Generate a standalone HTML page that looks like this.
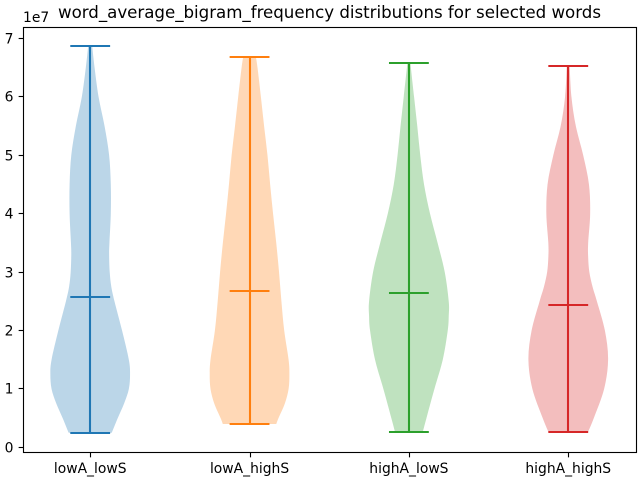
<!DOCTYPE html>
<html>
<head>
<meta charset="utf-8">
<title>word_average_bigram_frequency distributions</title>
<style>
html,body{margin:0;padding:0;background:#fff;width:640px;height:480px;overflow:hidden}
svg{display:block}
text{font-family:"DejaVu Sans","Liberation Sans",sans-serif;fill:#000}
</style>
</head>
<body>
<svg id="chart" width="640" height="480" viewBox="0 0 640 480" xmlns="http://www.w3.org/2000/svg">
<rect x="0" y="0" width="640" height="480" fill="#fff"/>
<text x="329.5" y="18" font-size="16.67" text-anchor="middle" textLength="543" lengthAdjust="spacing">word_average_bigram_frequency distributions for selected words</text>
<text x="23" y="22" font-size="13.89">1e7</text>
<g id="violins"></g>
<g id="axes"></g>
</svg>
<script>
const categories = ['lowA_lowS', 'lowA_highS', 'highA_lowS', 'highA_highS'];
const colors = ['#1f77b4', '#ff7f0e', '#2ca02c', '#d62728'];
const yTicks = [0, 1, 2, 3, 4, 5, 6, 7];
const means = [2.57, 2.68, 2.64, 2.43];
const minimums = [0.25, 0.40, 0.27, 0.27];
const maximums = [6.87, 6.68, 6.58, 6.53];
const levelsLowALowS = [0.25, 0.5, 0.75, 1, 1.25, 1.5, 2, 2.5, 2.75, 3, 3.3, 3.5, 4, 4.5, 5, 5.5, 6, 6.5, 6.87];
const densityLowALowS = [0.54, 0.69, 0.85, 0.97, 1.00, 0.97, 0.80, 0.61, 0.53, 0.49, 0.475, 0.483, 0.517, 0.517, 0.475, 0.36, 0.21, 0.11, 0.05];
const levelsLowAHighS = [0.40, 0.5, 0.75, 1, 1.25, 1.5, 2, 2.5, 3, 3.5, 4, 4.5, 5, 5.5, 6, 6.5, 6.68];
const densityLowAHighS = [0.67, 0.725, 0.885, 0.98, 1.00, 0.98, 0.87, 0.80, 0.74, 0.67, 0.59, 0.517, 0.45, 0.365, 0.285, 0.20, 0.16];
const levelsHighALowS = [0.27, 0.5, 1, 1.5, 2, 2.25, 2.5, 3, 3.5, 4, 4.5, 5, 5.5, 6, 6.5, 6.58];
const densityHighALowS = [0.35, 0.44, 0.64, 0.85, 0.975, 1.00, 1.00, 0.90, 0.72, 0.53, 0.38, 0.285, 0.21, 0.13, 0.05, 0.04];
const levelsHighAHighS = [0.27, 0.5, 1, 1.5, 2, 2.5, 2.75, 3, 3.25, 3.5, 4, 4.5, 5, 5.5, 6, 6.53];
const densityHighAHighS = [0.50, 0.64, 0.90, 1.00, 0.92, 0.72, 0.61, 0.53, 0.50, 0.50, 0.55, 0.52, 0.375, 0.19, 0.08, 0.035];
const levels = [levelsLowALowS, levelsLowAHighS, levelsHighALowS, levelsHighAHighS];
const densities = [densityLowALowS, densityLowAHighS, densityHighALowS, densityHighAHighS];

const NS = 'http://www.w3.org/2000/svg';
const AX = {left: 23.5, right: 636.5, top: 27.5, bottom: 452.5};
const VIOLIN_HALF = 0.25;
const CAP_HALF = 0.125;

function xScale(v) { return 90.2 + (v - 1) * 159.35; }
function yScale(v) { return 447.4 - v * 58.43; }

function make(tag, attrs, parent) {
  const el = document.createElementNS(NS, tag);
  for (const k in attrs) el.setAttribute(k, attrs[k]);
  parent.appendChild(el);
  return el;
}

function smoothSide(pts) {
  let d = '';
  for (let i = 0; i < pts.length - 1; i++) {
    const p0 = pts[Math.max(i - 1, 0)];
    const p1 = pts[i];
    const p2 = pts[i + 1];
    const p3 = pts[Math.min(i + 2, pts.length - 1)];
    const c1x = p1[0] + (p2[0] - p0[0]) / 6;
    const c1y = p1[1] + (p2[1] - p0[1]) / 6;
    const c2x = p2[0] - (p3[0] - p1[0]) / 6;
    const c2y = p2[1] - (p3[1] - p1[1]) / 6;
    d += 'C' + c1x.toFixed(2) + ' ' + c1y.toFixed(2) + ' ' + c2x.toFixed(2) + ' ' + c2y.toFixed(2) + ' ' + p2[0].toFixed(2) + ' ' + p2[1].toFixed(2);
  }
  return d;
}

const violinsGroup = document.getElementById('violins');
const axesGroup = document.getElementById('axes');

categories.forEach(function (cat, i) {
  const pos = i + 1;
  const color = colors[i];
  const cx = Math.round(xScale(pos));
  const g = make('g', {}, violinsGroup);
  
  

  const leftSide = levels[i].map(function (lv, j) { return [xScale(pos - densities[i][j] * VIOLIN_HALF), yScale(lv)]; });
  const rightSide = levels[i].map(function (lv, j) { return [xScale(pos + densities[i][j] * VIOLIN_HALF), yScale(lv)]; }).reverse();
  const d = 'M' + leftSide[0][0].toFixed(2) + ' ' + leftSide[0][1].toFixed(2) + smoothSide(leftSide) +
    'L' + rightSide[0][0].toFixed(2) + ' ' + rightSide[0][1].toFixed(2) + smoothSide(rightSide) + 'Z';
  const body = make('path', {d: d, fill: color, 'fill-opacity': 0.3, stroke: 'none'}, g);
  
  

  const stem = make('line', {x1: cx, x2: cx, y1: Math.round(yScale(minimums[i])), y2: Math.round(yScale(maximums[i])), stroke: color, 'stroke-width': 2.08}, g);
  
  

  const capMax = make('line', {x1: xScale(pos - CAP_HALF), x2: xScale(pos + CAP_HALF), y1: Math.round(yScale(maximums[i])), y2: Math.round(yScale(maximums[i])), stroke: color, 'stroke-width': 2.08}, g);
  
  

  const capMin = make('line', {x1: xScale(pos - CAP_HALF), x2: xScale(pos + CAP_HALF), y1: Math.round(yScale(minimums[i])), y2: Math.round(yScale(minimums[i])), stroke: color, 'stroke-width': 2.08}, g);
  
  

  const capMean = make('line', {x1: xScale(pos - CAP_HALF), x2: xScale(pos + CAP_HALF), y1: Math.round(yScale(means[i])), y2: Math.round(yScale(means[i])), stroke: color, 'stroke-width': 2.08}, g);
  
  

  const tx = cx + 0.5;
  const tick = make('line', {x1: tx, x2: tx, y1: AX.bottom, y2: AX.bottom + 4.86, stroke: '#000', 'stroke-width': 1.11}, axesGroup);
  
  

  const label = make('text', {x: xScale(pos), y: 473, 'font-size': 13.89, 'text-anchor': 'middle'}, axesGroup);
  label.textContent = cat;
  
  
});

yTicks.forEach(function (t) {
  const ty = Math.round(yScale(t) - 0.5) + 0.5;
  const tick = make('line', {x1: AX.left - 4.86, x2: AX.left, y1: ty, y2: ty, stroke: '#000', 'stroke-width': 1.11}, axesGroup);
  
  

  const label = make('text', {x: 13.5, y: ty + 5, 'font-size': 13.89, 'text-anchor': 'end'}, axesGroup);
  label.textContent = String(t);
  
  
});

const frame = make('rect', {x: AX.left, y: AX.top, width: AX.right - AX.left, height: AX.bottom - AX.top, fill: 'none', stroke: '#000', 'stroke-width': 1.11}, axesGroup);


</script>
</body>
</html>
